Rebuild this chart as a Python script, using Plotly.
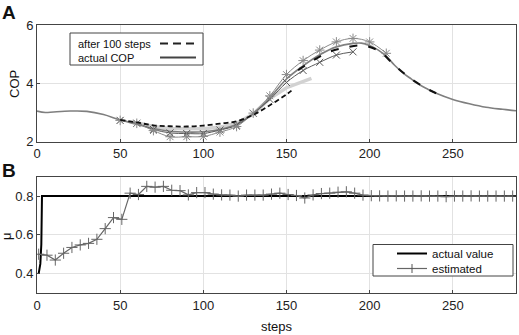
import plotly.graph_objects as go

# ---------------- data (panel A) ----------------
steps_actual = [0, 5, 10, 20, 30, 40, 50, 60, 70, 80, 90, 100, 110, 120, 130, 140, 150,
                160, 170, 180, 190, 195, 200, 205, 210, 215, 220, 225, 230, 235, 240,
                250, 260, 270, 280, 288]
cop_actual = [3.05, 3.0, 3.02, 3.05, 3.04, 2.93, 2.74, 2.6, 2.45, 2.36, 2.33, 2.34, 2.42,
              2.6, 2.96, 3.5, 4.15, 4.6, 4.98, 5.25, 5.37, 5.38, 5.3, 5.15, 4.93, 4.62,
              4.36, 4.15, 3.95, 3.8, 3.66, 3.45, 3.3, 3.18, 3.11, 3.06]

steps_after100_a = [50, 60, 70, 80, 90, 100, 110, 120, 130, 140, 150, 153]
cop_after100_a = [2.75, 2.66, 2.56, 2.53, 2.52, 2.55, 2.62, 2.7, 2.92, 3.25, 3.62, 3.75]
steps_after100_b = [157, 165, 175, 185, 195, 205, 215, 225, 235, 240]
cop_after100_b = [4.45, 4.75, 5.06, 5.22, 5.3, 5.13, 4.62, 4.15, 3.8, 3.66]

steps_star = [50, 60, 70, 80, 90, 100, 110, 120, 130, 140, 150, 160, 170, 180, 190, 200, 210]
cop_star = [2.73, 2.63, 2.38, 2.17, 2.17, 2.18, 2.33, 2.52, 2.98, 3.57, 4.3, 4.78, 5.14,
            5.42, 5.54, 5.42, 5.03]

steps_x = [50, 60, 70, 80, 90, 100, 110, 120, 130, 140, 150, 160, 170, 180, 190]
cop_x = [2.73, 2.63, 2.42, 2.3, 2.28, 2.28, 2.4, 2.56, 2.97, 3.45, 4.03, 4.44, 4.72, 4.97, 5.08]

steps_light = [60, 70, 80, 90, 100, 110, 120, 130, 140, 150, 160, 165]
cop_light = [2.65, 2.52, 2.45, 2.43, 2.44, 2.5, 2.63, 2.95, 3.48, 3.85, 4.08, 4.17]

# ---------------- data (panel B) ----------------
steps_mu_actual = [1, 2, 2.6, 3, 288]
mu_actual = [0.4, 0.45, 0.55, 0.8, 0.8]

steps_mu_est = list(range(1, 287, 5))
mu_est = [0.50, 0.495, 0.47, 0.505, 0.535, 0.548, 0.556, 0.577, 0.632, 0.689,
          0.68, 0.815, 0.808, 0.85, 0.846, 0.85, 0.83, 0.828, 0.806, 0.818,
          0.818, 0.81, 0.806, 0.805, 0.8, 0.805, 0.805, 0.805, 0.81, 0.815,
          0.808, 0.803, 0.79, 0.806, 0.813, 0.815, 0.82, 0.822, 0.815, 0.805,
          0.802, 0.801, 0.8, 0.801, 0.8, 0.8, 0.801, 0.8, 0.8, 0.797,
          0.8, 0.8, 0.801, 0.8, 0.8, 0.8, 0.8, 0.8]

x_ticks = [0, 50, 100, 150, 200, 250]
yA_ticks = [2, 4, 6]
yB_ticks = [0.4, 0.6, 0.8]

FONT = "Liberation Sans, Arial, sans-serif"
W, H = 519, 335
ML, MR, MT, MB = 37, 3, 25, 42
PW, PH = W - ML - MR, H - MT - MB


def px(xp):
    return (xp - ML) / PW


def py(yp):
    return (H - MB - yp) / PH


fig = go.Figure()

# panel A traces
fig.add_trace(go.Scatter(x=steps_light, y=cop_light, mode="lines",
                         line=dict(color="#d2d2d2", width=3.5), xaxis="x", yaxis="y",
                         showlegend=False))
fig.add_trace(go.Scatter(x=steps_actual, y=cop_actual, mode="lines",
                         line=dict(color="#7f7f7f", width=1.6, shape="spline"),
                         xaxis="x", yaxis="y", showlegend=False))
fig.add_trace(go.Scatter(x=steps_x, y=cop_x, mode="lines+markers",
                         line=dict(color="#5a5a5a", width=1, shape="spline"),
                         marker=dict(symbol="x-thin-open", size=7,
                                     line=dict(color="#5a5a5a", width=1)),
                         xaxis="x", yaxis="y", showlegend=False))
fig.add_trace(go.Scatter(x=steps_star, y=cop_star, mode="lines+markers",
                         line=dict(color="#8a8a8a", width=1, shape="spline"),
                         marker=dict(symbol="asterisk-open", size=8,
                                     line=dict(color="#7a7a7a", width=1)),
                         xaxis="x", yaxis="y", showlegend=False))
fig.add_trace(go.Scatter(x=steps_after100_a, y=cop_after100_a, mode="lines",
                         line=dict(color="#111111", width=1.8, dash="5px,3px", shape="spline"),
                         xaxis="x", yaxis="y", showlegend=False))
fig.add_trace(go.Scatter(x=steps_after100_b, y=cop_after100_b, mode="lines",
                         line=dict(color="#111111", width=2, dash="8px,11px", shape="spline"),
                         xaxis="x", yaxis="y", showlegend=False))

# panel B traces
fig.add_trace(go.Scatter(x=steps_mu_actual, y=mu_actual, mode="lines",
                         line=dict(color="#000000", width=2),
                         xaxis="x2", yaxis="y2", showlegend=False))
fig.add_trace(go.Scatter(x=steps_mu_est, y=mu_est, mode="lines+markers",
                         line=dict(color="#666666", width=1.2),
                         marker=dict(symbol="cross-thin-open", size=8,
                                     line=dict(color="#555555", width=1)),
                         xaxis="x2", yaxis="y2", showlegend=False))

axis_common = dict(showline=True, linecolor="#444444", linewidth=1, mirror=True,
                   ticks="inside", ticklen=3, tickcolor="#444444",
                   showgrid=True, gridcolor="#e2e2e2", gridwidth=1, zeroline=False,
                   tickfont=dict(family=FONT, size=13, color="#222222"))

fig.update_layout(
    width=W, height=H,
    margin=dict(l=ML, r=MR, t=MT, b=MB),
    paper_bgcolor="white", plot_bgcolor="white",
    font=dict(family=FONT, size=13, color="#222222"),
    xaxis=dict(domain=[0, 1], anchor="y", range=[0, 288], tickvals=x_ticks, **axis_common),
    yaxis=dict(domain=[0.5646, 1], anchor="x", range=[2, 6], tickvals=yA_ticks, **axis_common),
    xaxis2=dict(domain=[0, 1], anchor="y2", range=[0, 288], tickvals=x_ticks, **axis_common),
    yaxis2=dict(domain=[0, 0.434], anchor="x2", range=[0.3, 0.9], tickvals=yB_ticks,
                tickformat=".1f", **axis_common),
    showlegend=False,
)

shapes = []
annotations = []


def label(text, xp, yp, size, angle=0, xanchor="center"):
    annotations.append(dict(text=text, x=px(xp), y=py(yp), xref="paper", yref="paper",
                            xanchor=xanchor, yanchor="middle", textangle=angle,
                            showarrow=False,
                            font=dict(family=FONT, size=size, color="#111")))


# panel labels and axis titles
label("<b>A</b>", 9, 12, 19)
label("<b>B</b>", 9, 170, 19)
label("COP", 14, 84, 13, angle=-90)
label("μ", 6, 236, 13, angle=-90)
label("steps", 277, 326, 13)

# legend A (text left, sample right)
shapes.append(dict(type="rect", xref="paper", yref="paper", x0=px(70), x1=px(203),
                   y0=py(65), y1=py(33), line=dict(color="#444", width=1),
                   fillcolor="white", layer="above"))
label("after 100 steps", 76, 44.5, 11, xanchor="left")
label("actual COP", 76, 58, 11, xanchor="left")
shapes.append(dict(type="line", xref="paper", yref="paper", x0=px(160), x1=px(196),
                   y0=py(43.5), y1=py(43.5),
                   line=dict(color="#222", width=2, dash="8px,5px"), layer="above"))
shapes.append(dict(type="line", xref="paper", yref="paper", x0=px(160), x1=px(196),
                   y0=py(57.5), y1=py(57.5),
                   line=dict(color="#444", width=2), layer="above"))

# legend B (sample left, text right)
shapes.append(dict(type="rect", xref="paper", yref="paper", x0=px(373), x1=px(513),
                   y0=py(276), y1=py(244.5), line=dict(color="#444", width=1),
                   fillcolor="white", layer="above"))
shapes.append(dict(type="line", xref="paper", yref="paper", x0=px(397), x1=px(427),
                   y0=py(253.5), y1=py(253.5), line=dict(color="#000", width=2),
                   layer="above"))
shapes.append(dict(type="line", xref="paper", yref="paper", x0=px(397), x1=px(427),
                   y0=py(268.5), y1=py(268.5), line=dict(color="#666", width=1.2),
                   layer="above"))
shapes.append(dict(type="line", xref="paper", yref="paper", x0=px(412), x1=px(412),
                   y0=py(264), y1=py(273), line=dict(color="#555", width=1),
                   layer="above"))
label("actual value", 430, 254, 11.5, xanchor="left")
label("estimated", 430, 269, 11.5, xanchor="left")

fig.update_layout(shapes=shapes, annotations=annotations)

fig.write_html(
    "out.html",
    config={"displayModeBar": False},
    post_script="document.body.style.margin='0';document.body.style.padding='0';"
                "document.body.style.overflow='hidden';",
)
